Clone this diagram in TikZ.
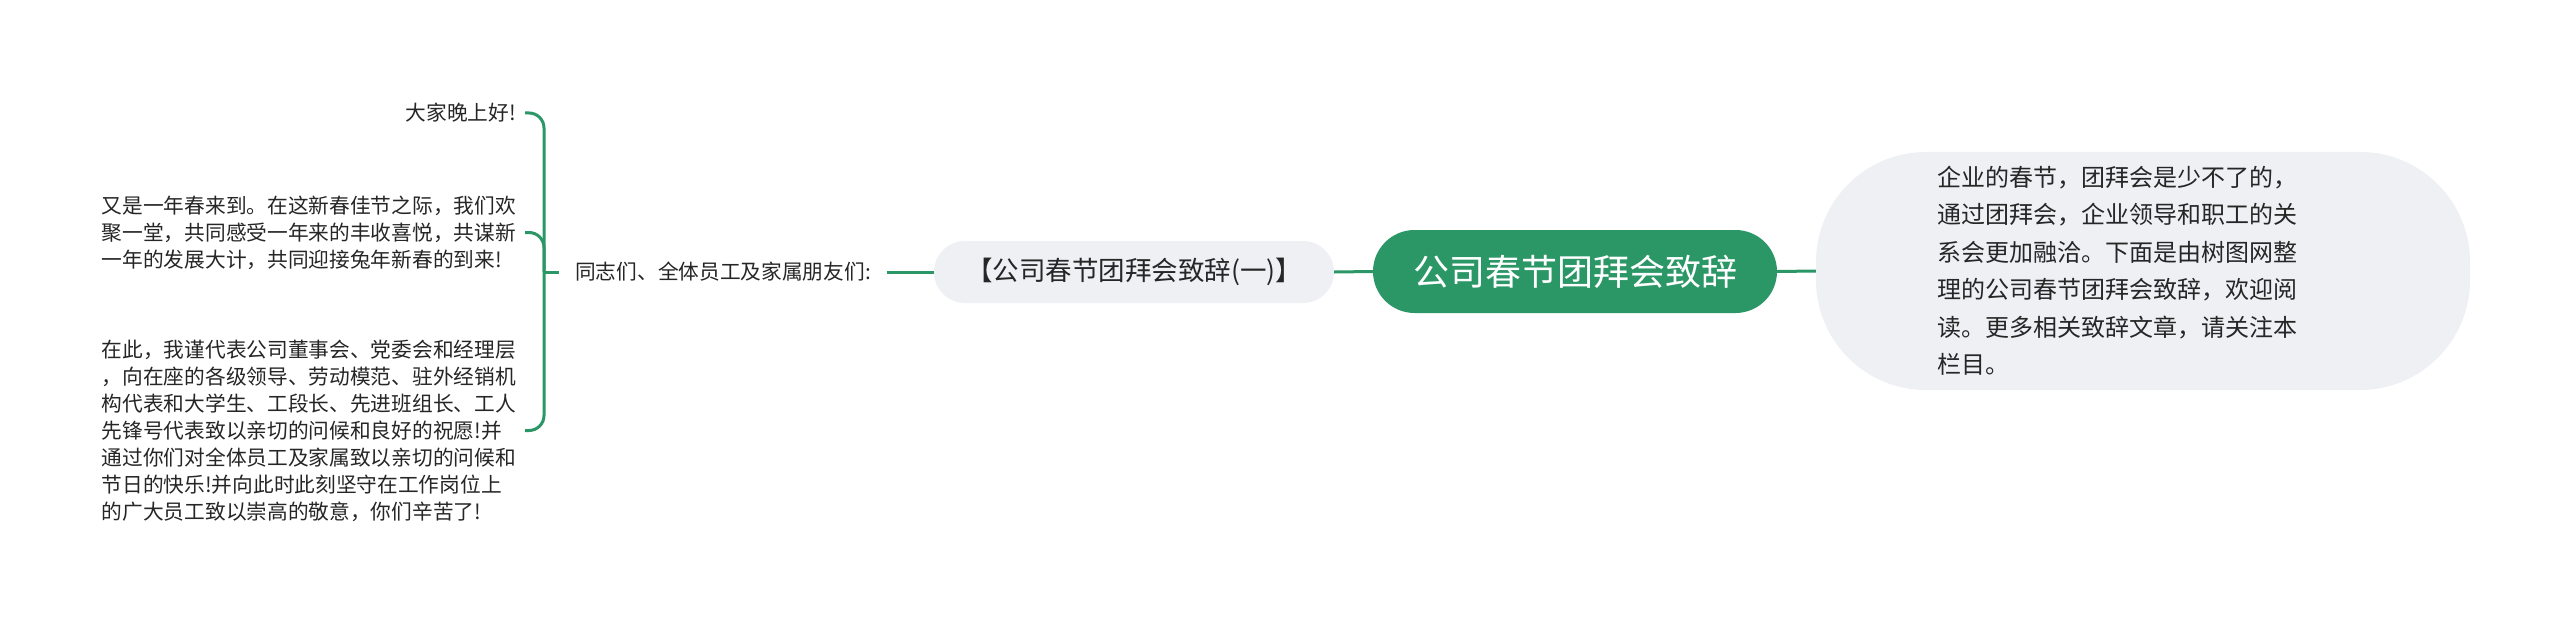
\documentclass[tikz,border=0pt]{standalone}
\usepackage{fontspec}
\setmainfont{Noto Sans CJK SC}
\definecolor{mmgreen}{RGB}{43,151,102}
\definecolor{mmgray}{RGB}{238,240,243}
\definecolor{mmtext}{RGB}{38,38,38}
\begin{document}
\begin{tikzpicture}[x=1pt,y=-1pt,
  conn/.style={draw=mmgreen,line width=3pt},
  rootbox/.style={fill=mmgreen,text=white,minimum width=404pt,minimum height=83pt,rounded corners=41.5pt,inner sep=0pt,font={\fontsize{36}{40}\selectfont}},
  subbox/.style={fill=mmgray,text=mmtext,minimum width=400pt,minimum height=62pt,rounded corners=31pt,inner sep=0pt,font={\fontsize{26.5}{30}\selectfont}},
  descbox/.style={fill=mmgray,text=mmtext,minimum width=654pt,minimum height=238pt,rounded corners=110pt,inner sep=0pt,text width=412pt,align=left,font={\fontsize{24}{37.5}\selectfont}},
  leaf/.style={text=mmtext,inner xsep=9pt,inner ysep=0pt,align=left,anchor=east,font={\fontsize{20.7}{27}\selectfont}},
  lbl/.style={text=mmtext,inner xsep=16pt,inner ysep=0pt,anchor=west,font={\fontsize{20.7}{27}\selectfont}}
]
\useasboundingbox (0,0) rectangle (2560,623);
\fill[white] (0,0) rectangle (2560,623);

\node[rootbox] (root) at (1575,271.5) {公司春节团拜会致辞};
\node[subbox] (sub) at (1134,272) {【公司春节团拜会致辞(一)】};
\node[descbox] (desc) at (2143,271) {企业的春节，团拜会是少不了的，\\通过团拜会，企业领导和职工的关\\系会更加融洽。下面是由树图网整\\理的公司春节团拜会致辞，欢迎阅\\读。更多相关致辞文章，请关注本\\栏目。};
\node[lbl] (label) at (559,272) {同志们、全体员工及家属朋友们:};
\coordinate (j) at (544,272);

\node[leaf] (c1) at (525,113) {大家晚上好!};
\node[leaf] (c2) at (525,232.5) {又是一年春来到。在这新春佳节之际，我们欢\\聚一堂，共同感受一年来的丰收喜悦，共谋新\\一年的发展大计，共同迎接兔年新春的到来!};
\node[leaf] (c3) at (525,430.5) {在此，我谨代表公司董事会、党委会和经理层\\，向在座的各级领导、劳动模范、驻外经销机\\构代表和大学生、工段长、先进班组长、工人\\先锋号代表致以亲切的问候和良好的祝愿!并\\通过你们对全体员工及家属致以亲切的问候和\\节日的快乐!并向此时此刻坚守在工作岗位上\\的广大员工致以崇高的敬意，你们辛苦了!};

\draw[conn] (root.east) -- (desc.west);
\draw[conn] (sub.east) -- (root.west);
\draw[conn] (label.east) -- (sub.west);
\draw[conn] (j) -- (label.west);
\draw[conn,rounded corners=15pt] (j) |- (c1.east);
\draw[conn,rounded corners=15pt] (j) |- (c2.east);
\draw[conn,rounded corners=15pt] (j) |- (c3.east);
\end{tikzpicture}
\end{document}
